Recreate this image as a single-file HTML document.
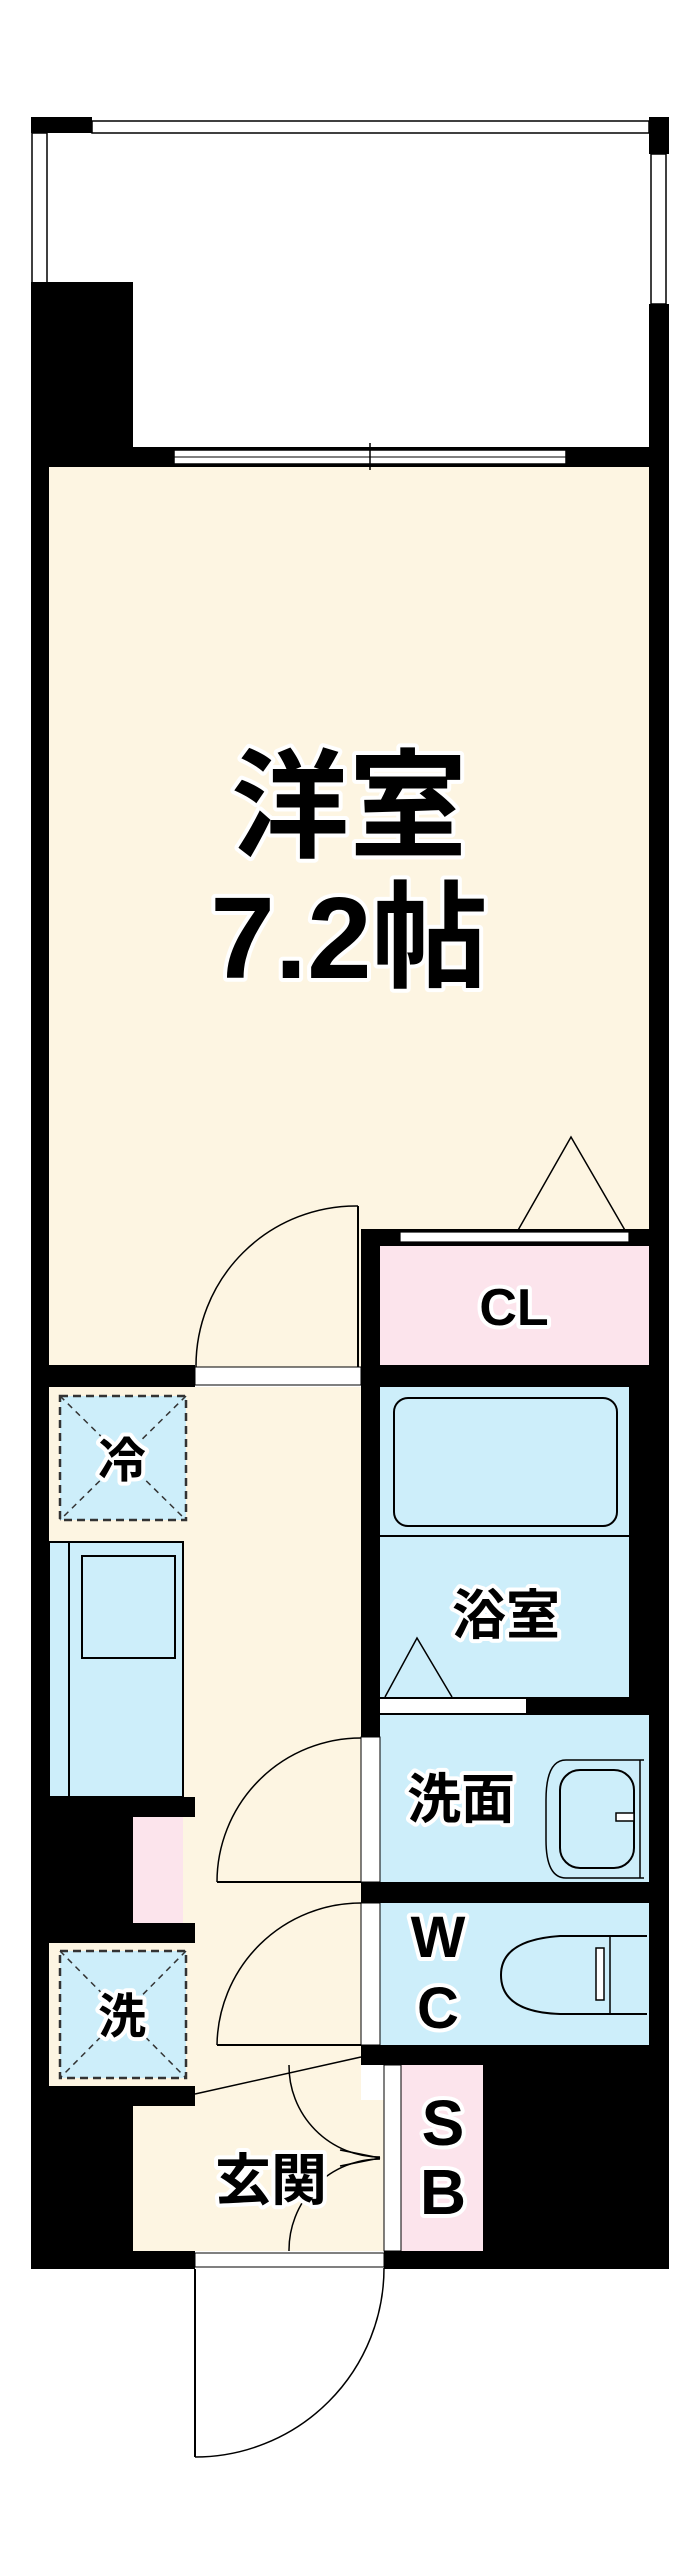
<!DOCTYPE html>
<html><head><meta charset="utf-8"><style>
html,body{margin:0;padding:0;background:#fff;}
svg{display:block;}
text{font-family:"Liberation Sans","Noto Sans CJK JP",sans-serif;font-weight:bold;fill:#000;stroke:#fff;stroke-width:8px;paint-order:stroke;stroke-linejoin:round;}
</style></head><body>
<svg width="698" height="2570" viewBox="0 0 698 2570" xmlns="http://www.w3.org/2000/svg">
<rect x="49" y="467" width="600" height="900" fill="#fdf5e2"/>
<rect x="49" y="1387" width="312" height="864" fill="#fdf5e2"/>
<rect x="133" y="2100" width="251" height="151" fill="#fdf5e2"/>
<rect x="380" y="1246" width="269" height="119" fill="#fce4ec"/>
<rect x="380" y="1387" width="249" height="310" fill="#cdeefa"/>
<rect x="380" y="1715" width="269" height="167" fill="#cdeefa"/>
<rect x="380" y="1903" width="269" height="142" fill="#cdeefa"/>
<rect x="401" y="2065" width="82" height="186" fill="#fce4ec"/>
<rect x="133" y="1817" width="50" height="106" fill="#fce4ec"/>

<rect x="31" y="117" width="61" height="16" fill="#000"/>
<rect x="649" y="117" width="20" height="37" fill="#000"/>
<rect x="92" y="121" width="557" height="12" fill="#fff" stroke="#000" stroke-width="1.5"/>
<rect x="32" y="133" width="15" height="150" fill="#fff" stroke="#000" stroke-width="1.5"/>
<rect x="651" y="154" width="15" height="150" fill="#fff" stroke="#000" stroke-width="1.5"/>
<rect x="31" y="282" width="102" height="185" fill="#000"/>

<rect x="31" y="447" width="638" height="20" fill="#000"/>
<rect x="174" y="450" width="392" height="14" fill="#fff" stroke="#000" stroke-width="1.5"/>
<line x1="174" y1="457" x2="566" y2="457" stroke="#000" stroke-width="1"/>
<line x1="370" y1="443" x2="370" y2="470" stroke="#000" stroke-width="1.5"/>

<rect x="31" y="447" width="18" height="1350" fill="#000"/>
<rect x="649" y="304" width="20" height="1965" fill="#000"/>
<rect x="629" y="1387" width="40" height="310" fill="#000"/>

<rect x="361" y="1229" width="19" height="816" fill="#000"/>
<rect x="361" y="1229" width="308" height="17" fill="#000"/>
<rect x="400" y="1232" width="229" height="10" fill="#fff" stroke="#000" stroke-width="1.2"/>
<polyline points="517,1232 571,1137 626,1232" fill="none" stroke="#000" stroke-width="1.5"/>
<text x="514" y="1325" font-size="52" text-anchor="middle" font-weight="normal">CL</text>

<rect x="31" y="1365" width="164" height="22" fill="#000"/>
<rect x="361" y="1365" width="308" height="22" fill="#000"/>
<rect x="195" y="1367" width="166" height="18" fill="#fff" stroke="#000" stroke-width="1"/>
<line x1="358" y1="1206" x2="358" y2="1367" stroke="#000" stroke-width="2"/>
<path d="M358,1206 A160,160 0 0 0 196,1367" fill="none" stroke="#000" stroke-width="1.5"/>

<text x="349" y="848" font-size="118" text-anchor="middle" stroke-width="12">洋室</text>
<text x="349" y="978" font-size="116" text-anchor="middle" stroke-width="12">7.2帖</text>

<rect x="394" y="1398" width="223" height="128" rx="14" fill="none" stroke="#000" stroke-width="2"/>
<line x1="380" y1="1536" x2="629" y2="1536" stroke="#000" stroke-width="2"/>
<text x="506" y="1634" font-size="54" text-anchor="middle">浴室</text>
<polyline points="385,1697 417,1638 452,1697" fill="none" stroke="#000" stroke-width="1.5"/>
<rect x="361" y="1697" width="308" height="18" fill="#000"/>
<rect x="380" y="1699" width="146" height="14" fill="#fff"/>

<rect x="361" y="1737" width="19" height="145" fill="#fff" stroke="#000" stroke-width="1"/>
<text x="461" y="1818" font-size="54" text-anchor="middle">洗面</text>
<path d="M644,1760 L566,1760 Q546,1760 546,1800 L546,1840 Q546,1878 566,1878 L644,1878" fill="none" stroke="#000" stroke-width="1.5"/>
<rect x="560" y="1770" width="74" height="98" rx="20" fill="none" stroke="#000" stroke-width="2"/>
<rect x="616" y="1813" width="18" height="8" fill="#fff" stroke="#000" stroke-width="1.5"/>
<line x1="640" y1="1760" x2="640" y2="1878" stroke="#000" stroke-width="1.5"/>
<rect x="361" y="1882" width="308" height="21" fill="#000"/>

<rect x="361" y="1903" width="19" height="142" fill="#fff" stroke="#000" stroke-width="1"/>
<text x="438" y="1957" font-size="58" text-anchor="middle" font-weight="normal">W</text>
<text x="438" y="2028" font-size="58" text-anchor="middle" font-weight="normal">C</text>
<path d="M647,1936 L560,1936 Q501,1940 501,1975 Q501,2012 560,2014 L647,2014" fill="none" stroke="#000" stroke-width="2"/>
<line x1="610" y1="1936" x2="610" y2="2014" stroke="#000" stroke-width="1.5"/>
<rect x="596" y="1948" width="8" height="52" fill="#fff" stroke="#000" stroke-width="1.5"/>
<rect x="361" y="2045" width="308" height="20" fill="#000"/>
<rect x="483" y="2045" width="186" height="224" fill="#000"/>

<rect x="384" y="2065" width="17" height="186" fill="#fff" stroke="#000" stroke-width="1"/>
<text x="443" y="2145" font-size="64" text-anchor="middle" font-weight="normal">S</text>
<text x="443" y="2214" font-size="64" text-anchor="middle" font-weight="normal">B</text>
<path d="M289,2065 A91,91 0 0 0 380,2157" fill="none" stroke="#000" stroke-width="1.5"/>
<path d="M289,2251 A91,91 0 0 1 380,2159" fill="none" stroke="#000" stroke-width="1.5"/>
<line x1="340" y1="2150" x2="380" y2="2158" stroke="#000" stroke-width="1.5"/>
<line x1="340" y1="2166" x2="380" y2="2158" stroke="#000" stroke-width="1.5"/>

<line x1="217" y1="1882" x2="361" y2="1882" stroke="#000" stroke-width="2"/>
<path d="M217,1882 A144,144 0 0 1 361,1738" fill="none" stroke="#000" stroke-width="1.5"/>
<line x1="217" y1="2045" x2="361" y2="2045" stroke="#000" stroke-width="2"/>
<path d="M217,2045 A144,144 0 0 1 361,1903" fill="none" stroke="#000" stroke-width="1.5"/>
<line x1="195" y1="2094" x2="361" y2="2057" stroke="#000" stroke-width="1.5"/>

<rect x="60" y="1396" width="126" height="124" fill="#cdeefa" stroke="#333" stroke-width="2.5" stroke-dasharray="8,5"/>
<line x1="60" y1="1396" x2="186" y2="1520" stroke="#333" stroke-width="1.5" stroke-dasharray="6,5"/>
<line x1="186" y1="1396" x2="60" y2="1520" stroke="#333" stroke-width="1.5" stroke-dasharray="6,5"/>
<text x="122" y="1477" font-size="48" text-anchor="middle">冷</text>

<rect x="49" y="1542" width="134" height="255" fill="#cdeefa" stroke="#000" stroke-width="2"/>
<line x1="69" y1="1542" x2="69" y2="1797" stroke="#000" stroke-width="2"/>
<rect x="82" y="1556" width="93" height="102" fill="none" stroke="#000" stroke-width="2"/>

<rect x="31" y="1797" width="164" height="20" fill="#000"/>
<rect x="31" y="1797" width="102" height="146" fill="#000"/>
<rect x="31" y="1923" width="164" height="20" fill="#000"/>
<rect x="31" y="1943" width="18" height="145" fill="#000"/>

<rect x="60" y="1951" width="126" height="127" fill="#cdeefa" stroke="#333" stroke-width="2.5" stroke-dasharray="8,5"/>
<line x1="60" y1="1951" x2="186" y2="2078" stroke="#333" stroke-width="1.5" stroke-dasharray="6,5"/>
<line x1="186" y1="1951" x2="60" y2="2078" stroke="#333" stroke-width="1.5" stroke-dasharray="6,5"/>
<text x="122" y="2033" font-size="48" text-anchor="middle">洗</text>

<rect x="31" y="2086" width="164" height="20" fill="#000"/>
<rect x="31" y="2086" width="102" height="183" fill="#000"/>

<text x="271" y="2200" font-size="56" text-anchor="middle">玄関</text>
<rect x="31" y="2251" width="164" height="18" fill="#000"/>
<rect x="384" y="2251" width="285" height="18" fill="#000"/>
<rect x="195" y="2253" width="189" height="14" fill="#fff" stroke="#000" stroke-width="1"/>
<line x1="195" y1="2269" x2="195" y2="2457" stroke="#000" stroke-width="2"/>
<path d="M195,2457 A189,189 0 0 0 384,2268" fill="none" stroke="#000" stroke-width="1.5"/>
</svg>
</body></html>
